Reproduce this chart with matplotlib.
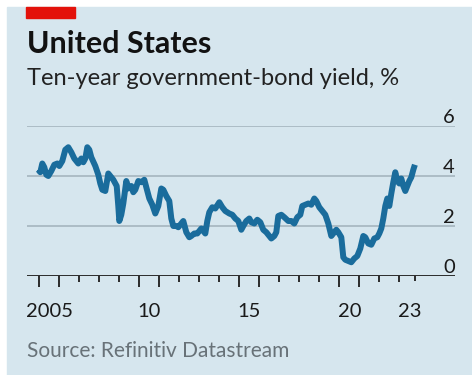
import matplotlib.pyplot as plt
from matplotlib.patches import Rectangle
import matplotlib.transforms as mtransforms

# Ten-year US government-bond yield, % (decimal year, value)
years = [
    2004.95, 2005.05, 2005.15, 2005.25, 2005.35, 2005.45, 2005.6, 2005.75, 2005.9,
    2006.0, 2006.15, 2006.3, 2006.45, 2006.6, 2006.75, 2006.95, 2007.1, 2007.2,
    2007.3, 2007.4, 2007.5, 2007.6, 2007.8, 2007.95, 2008.05, 2008.15, 2008.3,
    2008.4, 2008.45, 2008.6, 2008.7, 2008.87, 2008.95, 2009.0, 2009.1, 2009.2,
    2009.35, 2009.45, 2009.6, 2009.7, 2009.8, 2009.95, 2010.1, 2010.25, 2010.35,
    2010.5, 2010.65, 2010.8, 2010.95, 2011.1, 2011.2, 2011.35, 2011.5, 2011.6,
    2011.7, 2011.85, 2011.95, 2012.1, 2012.2, 2012.35, 2012.5, 2012.6, 2012.75,
    2012.9, 2013.1, 2013.3, 2013.4, 2013.5, 2013.65, 2013.8, 2014.0, 2014.15,
    2014.3, 2014.5, 2014.65, 2014.8, 2014.95, 2015.1, 2015.2, 2015.35, 2015.5,
    2015.6, 2015.75, 2015.9, 2016.05, 2016.2, 2016.35, 2016.5, 2016.6, 2016.75,
    2016.85, 2016.95, 2017.1, 2017.25, 2017.45, 2017.6, 2017.75, 2017.9, 2018.05,
    2018.15, 2018.3, 2018.45, 2018.6, 2018.75, 2018.85, 2019.0, 2019.15, 2019.3,
    2019.45, 2019.6, 2019.7, 2019.85, 2019.95, 2020.1, 2020.2, 2020.3, 2020.45,
    2020.6, 2020.75, 2020.9, 2021.05, 2021.2, 2021.3, 2021.45, 2021.6, 2021.75,
    2021.9, 2022.0, 2022.1, 2022.2, 2022.3, 2022.4, 2022.5, 2022.6, 2022.7,
    2022.8, 2022.9, 2023.0, 2023.1, 2023.2, 2023.3, 2023.4, 2023.5, 2023.6,
    2023.7, 2023.78,
]
yields = [
    4.25, 4.15, 4.5, 4.35, 4.05, 4.0, 4.2, 4.45, 4.5,
    4.4, 4.6, 5.05, 5.15, 4.95, 4.7, 4.5, 4.7, 4.55,
    4.7, 5.15, 5.05, 4.75, 4.4, 4.05, 3.7, 3.45, 3.4,
    3.85, 4.1, 3.95, 3.85, 3.6, 2.8, 2.2, 2.45, 2.9,
    3.8, 3.5, 3.6, 3.35, 3.45, 3.8, 3.75, 3.85, 3.55,
    3.1, 2.85, 2.5, 2.8, 3.5, 3.45, 3.2, 3.0, 2.3,
    2.0, 2.0, 1.95, 2.1, 2.2, 1.75, 1.55, 1.6, 1.7,
    1.7, 1.9, 1.7, 2.2, 2.55, 2.75, 2.7, 2.95, 2.75,
    2.6, 2.5, 2.45, 2.3, 2.2, 1.85, 2.0, 2.2, 2.3,
    2.15, 2.1, 2.25, 2.15, 1.85, 1.75, 1.6, 1.5, 1.6,
    1.75, 2.4, 2.45, 2.35, 2.2, 2.2, 2.1, 2.35, 2.45,
    2.8, 2.85, 2.9, 2.85, 3.1, 3.0, 2.75, 2.6, 2.45,
    2.1, 1.6, 1.7, 1.85, 1.75, 1.55, 0.75, 0.65, 0.6,
    0.55, 0.7, 0.8, 1.1, 1.6, 1.55, 1.3, 1.25, 1.5,
    1.55, 1.7, 1.9, 2.3, 2.8, 3.1, 2.8, 3.3, 3.75,
    4.15, 3.8, 3.7, 3.9, 3.6, 3.4, 3.6, 3.8, 3.95,
    4.25, 4.45,
]

y_ticks = [0, 2, 4, 6]
first_year, last_year = 2005, 2023
labelled_years = {2005: "2005", 2010: "10", 2015: "15", 2020: "20", 2023: "23"}

bg = "#d6e6ee"
line_blue = "#1a6c9c"
grid_col = "#a9b9c2"
ink = "#1a1a1a"

W, H = 472, 375
fig = plt.figure(figsize=(W / 100, H / 100), dpi=100)
fig.patch.set_facecolor("white")
fig.patches.append(Rectangle((7 / W, 0), 1 - 7 / W, 1 - 7 / H,
                             transform=fig.transFigure, color=bg, zorder=-10))
fig.patches.append(Rectangle((26 / W, 1 - 18 / H), 49 / W, 11 / H,
                             transform=fig.transFigure, color="#e3120b", zorder=5))

fig.text(27 / W, 1 - 53 / H, "United States", fontsize=22, fontweight="bold",
         family="Lato", color="#121212", va="baseline")
fig.text(27 / W, 1 - 85 / H, "Ten-year government-bond yield, %", fontsize=17,
         family="Lato", color="#222222", va="baseline")
fig.text(27 / W, 1 - 357 / H, "Source: Refinitiv Datastream", fontsize=15,
         family="Lato", color="#687278", va="baseline")

# plot area: x from 27 to 455 px, y=0 at 276 px, y=6 at 126 px
ax = fig.add_axes([27 / W, 1 - 276 / H, (455 - 27) / W, 150 / H])
ax.set_facecolor("none")
x0 = first_year - 12.3 / 20
ax.set_xlim(x0, x0 + (455 - 27) / 20)
ax.set_ylim(0, 6)

for v in y_ticks[1:]:
    ax.axhline(v, color=grid_col, lw=1.3, zorder=1)
ax.axhline(0, color="#2b2b2b", lw=1.4, zorder=3)

ax.plot(years, yields, color=line_blue, lw=4.3, solid_joinstyle="round",
        solid_capstyle="butt", zorder=4, clip_on=False)

for s in ax.spines.values():
    s.set_visible(False)
ax.set_xticks([])
ax.set_yticks([])

# y labels sit above the gridlines on the right
ytrans = mtransforms.blended_transform_factory(ax.transAxes, ax.transData)
for v in y_ticks:
    ax.text(1.0, v, str(v), transform=ytrans, ha="right", va="bottom",
            fontsize=14.5, family="Lato", color=ink)

# year ticks: longer ones flank the labelled years
tall = set()
for yr in labelled_years:
    tall.update([yr, yr + 1])
for yr in range(first_year, last_year + 1):
    length = 8 if (yr in tall and yr != last_year) else 4.5
    ax.plot([yr, yr], [0, 0], marker=3, markersize=length, mew=1.2,
            color="#2b2b2b", clip_on=False, zorder=3)
ax.plot([last_year + 0.8] * 2, [0, 0], marker=3, markersize=3.5, mew=1.2,
        color="#2b2b2b", clip_on=False, zorder=3)

for yr, lab in labelled_years.items():
    ax.annotate(lab, (yr + 0.5, 0), xytext=(0, -19.5), textcoords="offset points",
                ha="center", va="top", fontsize=14.5, family="Lato", color=ink)

fig.savefig("out.png", dpi=100, facecolor=fig.get_facecolor())
